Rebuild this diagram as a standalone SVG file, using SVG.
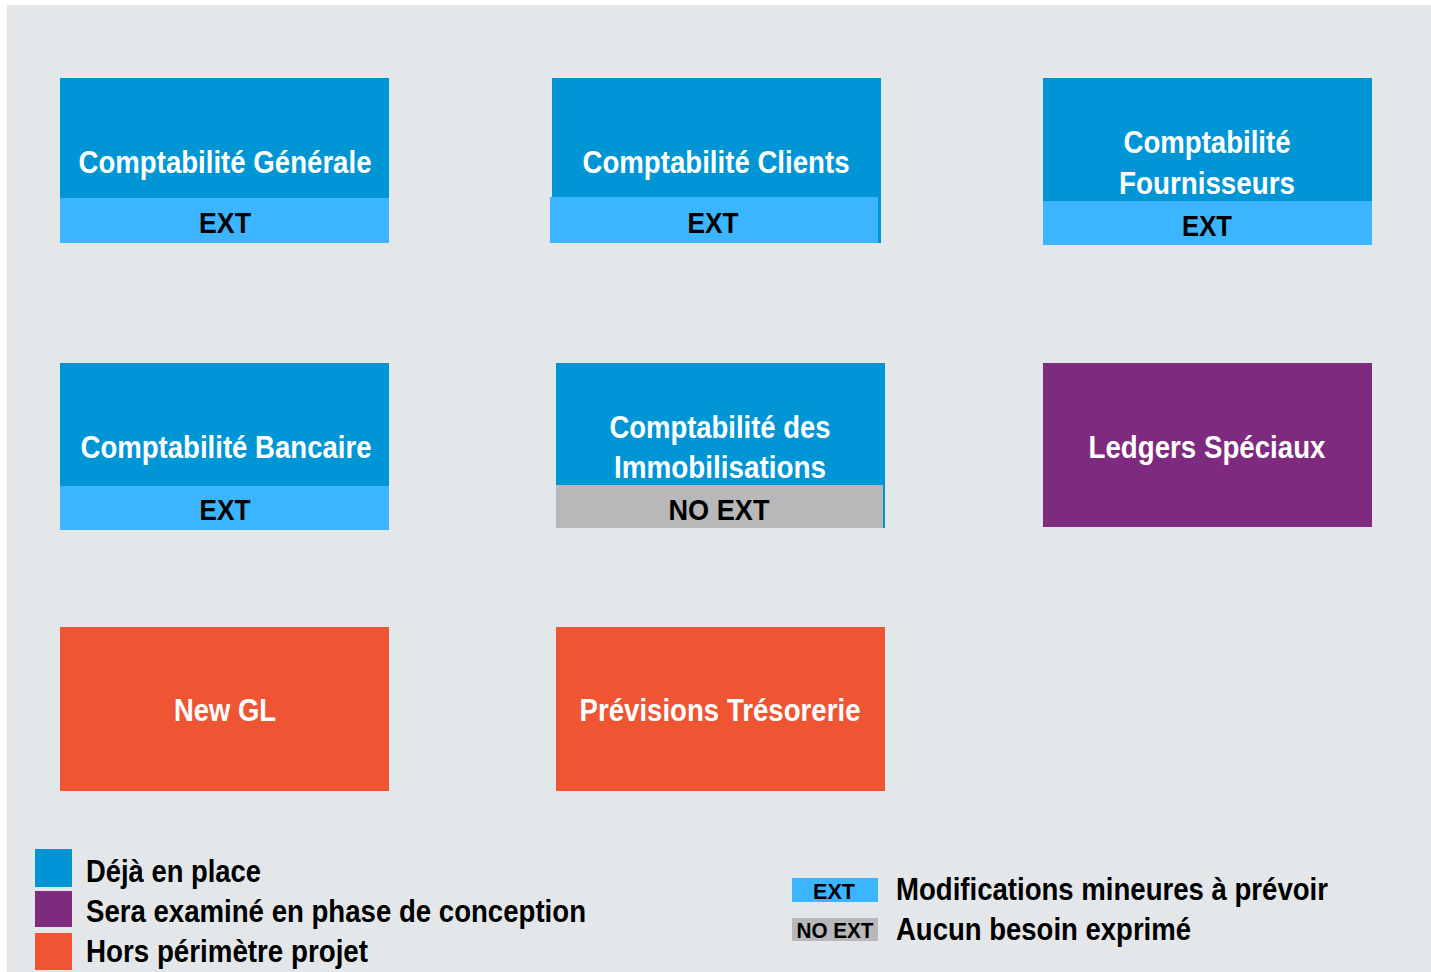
<svg xmlns="http://www.w3.org/2000/svg" width="1431" height="972" viewBox="0 0 1431 972">
<style>
.t{font-family:"Liberation Sans",Arial,sans-serif;font-weight:bold;text-anchor:middle}
.w{fill:#ffffff;font-size:32px}
.k{fill:#000000;font-size:30px}
.lg{font-family:"Liberation Sans",Arial,sans-serif;font-weight:bold;fill:#000;font-size:31px}
.dark{fill:#0096D6}
.ext{fill:#3BB5FF}
.noext{fill:#B8B8BA}
.pur{fill:#7E2A7E}
.ora{fill:#F05533}
</style>
<rect x="0" y="0" width="1431" height="972" fill="#ffffff"/>
<rect x="7" y="5" width="1424" height="967" fill="#E3E7E9"/>
<g id="connectors"></g>
<g id="n-generale">
<rect class="dark" x="60" y="78" width="329" height="120"/>
<rect class="ext" x="60" y="198" width="329" height="45"/>
<text class="t w" x="225" y="173" textLength="293" lengthAdjust="spacingAndGlyphs">Comptabilité Générale</text>
<text class="t k" x="225" y="233" textLength="52" lengthAdjust="spacingAndGlyphs">EXT</text>
</g>
<g id="n-clients">
<rect class="dark" x="552" y="78" width="329" height="165"/>
<rect class="ext" x="550" y="197" width="328" height="46"/>
<text class="t w" x="716" y="173" textLength="267" lengthAdjust="spacingAndGlyphs">Comptabilité Clients</text>
<text class="t k" x="713" y="233" textLength="51" lengthAdjust="spacingAndGlyphs">EXT</text>
</g>
<g id="n-fournisseurs">
<rect class="dark" x="1043" y="78" width="329" height="123"/>
<rect class="ext" x="1043" y="201" width="329" height="44"/>
<text class="t w" x="1207" y="153" textLength="167" lengthAdjust="spacingAndGlyphs">Comptabilité</text>
<text class="t w" x="1207" y="194" textLength="176" lengthAdjust="spacingAndGlyphs">Fournisseurs</text>
<text class="t k" x="1207" y="236" textLength="50" lengthAdjust="spacingAndGlyphs">EXT</text>
</g>
<g id="n-bancaire">
<rect class="dark" x="60" y="363" width="329" height="123"/>
<rect class="ext" x="60" y="486" width="329" height="44"/>
<text class="t w" x="226" y="458" textLength="291" lengthAdjust="spacingAndGlyphs">Comptabilité Bancaire</text>
<text class="t k" x="225" y="520" textLength="51" lengthAdjust="spacingAndGlyphs">EXT</text>
</g>
<g id="n-immobilisations">
<rect class="dark" x="556" y="363" width="329" height="165"/>
<rect class="noext" x="556" y="485" width="327" height="43"/>
<text class="t w" x="720" y="438" textLength="221" lengthAdjust="spacingAndGlyphs">Comptabilité des</text>
<text class="t w" x="720" y="478" textLength="212" lengthAdjust="spacingAndGlyphs">Immobilisations</text>
<text class="t k" x="719" y="520" textLength="101" lengthAdjust="spacingAndGlyphs">NO EXT</text>
</g>
<g id="n-ledgers">
<rect class="pur" x="1043" y="363" width="329" height="164"/>
<text class="t w" x="1207" y="458" textLength="237" lengthAdjust="spacingAndGlyphs">Ledgers Spéciaux</text>
</g>
<g id="n-newgl">
<rect class="ora" x="60" y="627" width="329" height="164"/>
<text class="t w" x="225" y="721" textLength="102" lengthAdjust="spacingAndGlyphs">New GL</text>
</g>
<g id="n-previsions">
<rect class="ora" x="556" y="627" width="329" height="164"/>
<text class="t w" x="720" y="721" textLength="281" lengthAdjust="spacingAndGlyphs">Prévisions Trésorerie</text>
</g>
<g id="legend">
<rect class="dark" x="35" y="849" width="37" height="38"/>
<rect class="pur" x="35" y="891" width="37" height="36"/>
<rect class="ora" x="35" y="933" width="37" height="37"/>
<text class="lg" x="86" y="882" textLength="175" lengthAdjust="spacingAndGlyphs">Déjà en place</text>
<text class="lg" x="86" y="922" textLength="500" lengthAdjust="spacingAndGlyphs">Sera examiné en phase de conception</text>
<text class="lg" x="86" y="962" textLength="282" lengthAdjust="spacingAndGlyphs">Hors périmètre projet</text>
<rect class="ext" x="792" y="878" width="86" height="24"/>
<rect class="noext" x="792" y="918" width="86" height="23"/>
<text class="t" x="834" y="899" font-size="22" fill="#000" textLength="42" lengthAdjust="spacingAndGlyphs">EXT</text>
<text class="t" x="835" y="938" font-size="22" fill="#000" textLength="77" lengthAdjust="spacingAndGlyphs">NO EXT</text>
<text class="lg" x="896" y="900" textLength="432" lengthAdjust="spacingAndGlyphs">Modifications mineures à prévoir</text>
<text class="lg" x="896" y="940" textLength="295" lengthAdjust="spacingAndGlyphs">Aucun besoin exprimé</text>
</g>
</svg>
